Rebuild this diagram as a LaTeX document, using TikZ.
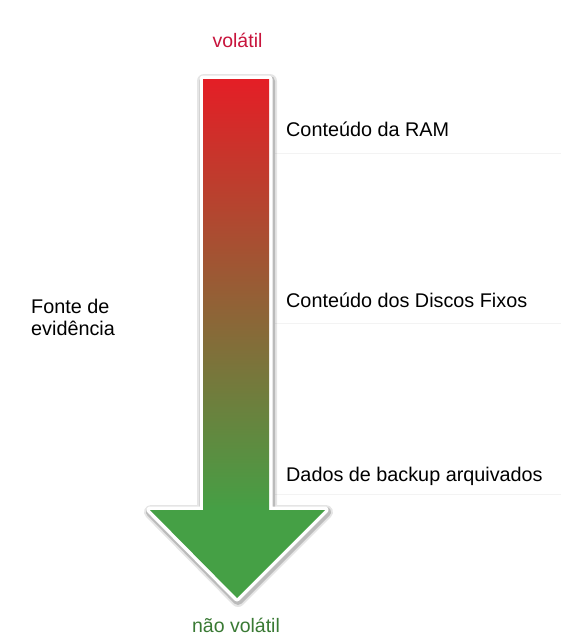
\documentclass[tikz,border=0pt]{standalone}
\usepackage{fontspec}
\setmainfont{Liberation Sans}
\definecolor{arred}{HTML}{E41E26}
\definecolor{armid}{HTML}{A0532F}
\definecolor{argreen}{HTML}{45A045}
\definecolor{volred}{HTML}{C8143C}
\definecolor{nvgreen}{HTML}{3A7A34}
\definecolor{sepgray}{HTML}{F3F3F3}
\begin{document}
\begin{tikzpicture}[x=1pt,y=-1pt,
  lbl/.style={inner sep=0pt,font=\fontsize{19.8}{22}\selectfont,text=black},
  endlbl/.style={inner sep=0pt,font=\fontsize{19.5}{22}\selectfont},
  sep/.style={draw=sepgray,line width=1pt}]
\useasboundingbox[fill=white] (0,0) rectangle (561,643);
% separators
\draw[sep] (275,153) -- (561,153);
\draw[sep] (275,323) -- (561,323);
\draw[sep] (275,494) -- (561,494);
% arrow shadow and border
\draw[black,opacity=0.10,line width=14pt,line join=round] [shift={(1,2)}] (203,79) -- (269,79) -- (269,510) -- (325,510) -- (237,598) -- (150,510) -- (203,510) -- cycle;
\draw[black,opacity=0.18,line width=10pt,line join=round] [shift={(1,2)}] (203,79) -- (269,79) -- (269,510) -- (325,510) -- (237,598) -- (150,510) -- (203,510) -- cycle;
\draw[white,line width=7pt,line join=round] (203,79) -- (269,79) -- (269,510) -- (325,510) -- (237,598) -- (150,510) -- (203,510) -- cycle;
% arrow fill
\shade[top color=arred,middle color=armid,bottom color=argreen] (203,79) rectangle (269,511);
\fill[argreen] (150,510) -- (325,510) -- (237,598) -- cycle;
% labels
\node[endlbl,text=volred,anchor=base] (top) at (237.5,47) {volátil};
\node[endlbl,text=nvgreen,anchor=base] (bottom) at (236,632) {não volátil};
\node[lbl,anchor=base west] (ram) at (286,136) {Conteúdo da RAM};
\node[lbl,anchor=base west] (discos) at (286,307) {Conteúdo dos Discos Fixos};
\node[lbl,anchor=base west] (backup) at (286,481) {Dados de backup arquivados};
\node[lbl,anchor=base west,align=left] (fonte) at (31,335) {Fonte de\\evidência};
\end{tikzpicture}
\end{document}
